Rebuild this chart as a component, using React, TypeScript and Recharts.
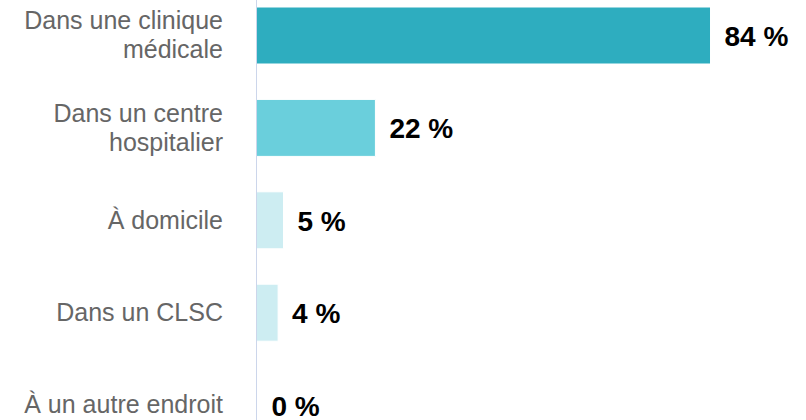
import { BarChart, Bar, XAxis, YAxis, Cell, LabelList } from "recharts";

const categories = [
  "Dans une clinique médicale",
  "Dans un centre hospitalier",
  "À domicile",
  "Dans un CLSC",
  "À un autre endroit",
];
// wrapped lines for the category labels
const tickLines: string[][] = [
  ["Dans une clinique", "médicale"],
  ["Dans un centre", "hospitalier"],
  ["À domicile"],
  ["Dans un CLSC"],
  ["À un autre endroit"],
];
const values = [84, 22, 5, 4, 0];
const barColors = ["#2eadbf", "#6acfdc", "#cdedf2", "#cdedf2", "#cdedf2"];

const data = categories.map((name, i) => ({ name, value: values[i], idx: i }));

const FONT = "'Liberation Sans', Arial, Helvetica, sans-serif";

function CategoryTick(props: any) {
  const { x, y, index } = props;
  const lines = tickLines[index] ?? [String(props.payload?.value ?? "")];
  const lh = 29;
  const first = -((lines.length - 1) * lh) / 2 + 8.5;
  return (
    <text
      x={x - 25.5}
      y={y}
      textAnchor="end"
      fill="#666666"
      fontSize={25}
      fontFamily={FONT}
    >
      {lines.map((l, i) => (
        <tspan key={i} x={x - 25.5} dy={i === 0 ? first : lh}>
          {l}
        </tspan>
      ))}
    </text>
  );
}

function ValueLabel(props: any) {
  const { x, y, width, height, value } = props;
  return (
    <text
      x={x + width + 14}
      y={y + height / 2 + 10.5}
      fill="#000000"
      fontSize={28}
      fontWeight="bold"
      fontFamily={FONT}
    >
      {`${value} %`}
    </text>
  );
}

export default function App() {
  return (
    <div
      style={{
        position: "fixed",
        left: 0,
        top: 0,
        width: 806,
        height: 420,
        overflow: "hidden",
        background: "#ffffff",
      }}
    >
      <div style={{ position: "absolute", left: 0, top: -11.5 }}>
        <BarChart
          width={806}
          height={462}
          data={data}
          layout="vertical"
          margin={{ top: 0, right: 9, bottom: 0, left: 0 }}
          barCategoryGap={0}
        >
          <XAxis type="number" domain={[0, 100]} hide />
          <YAxis
            type="category"
            dataKey="name"
            width={256.5}
            axisLine={{ stroke: "#ccd6eb", strokeWidth: 1 }}
            tickLine={false}
            tick={<CategoryTick />}
            interval={0}
          />
          <Bar
            dataKey="value"
            barSize={57}
            stroke="#ffffff"
            strokeWidth={1}
            minPointSize={1}
            isAnimationActive={false}
          >
            {data.map((d) => (
              <Cell
                key={d.name}
                fill={d.value === 0 ? "none" : barColors[d.idx]}
                stroke={d.value === 0 ? "none" : "#ffffff"}
              />
            ))}
            <LabelList dataKey="value" content={<ValueLabel />} />
          </Bar>
        </BarChart>
      </div>
    </div>
  );
}
